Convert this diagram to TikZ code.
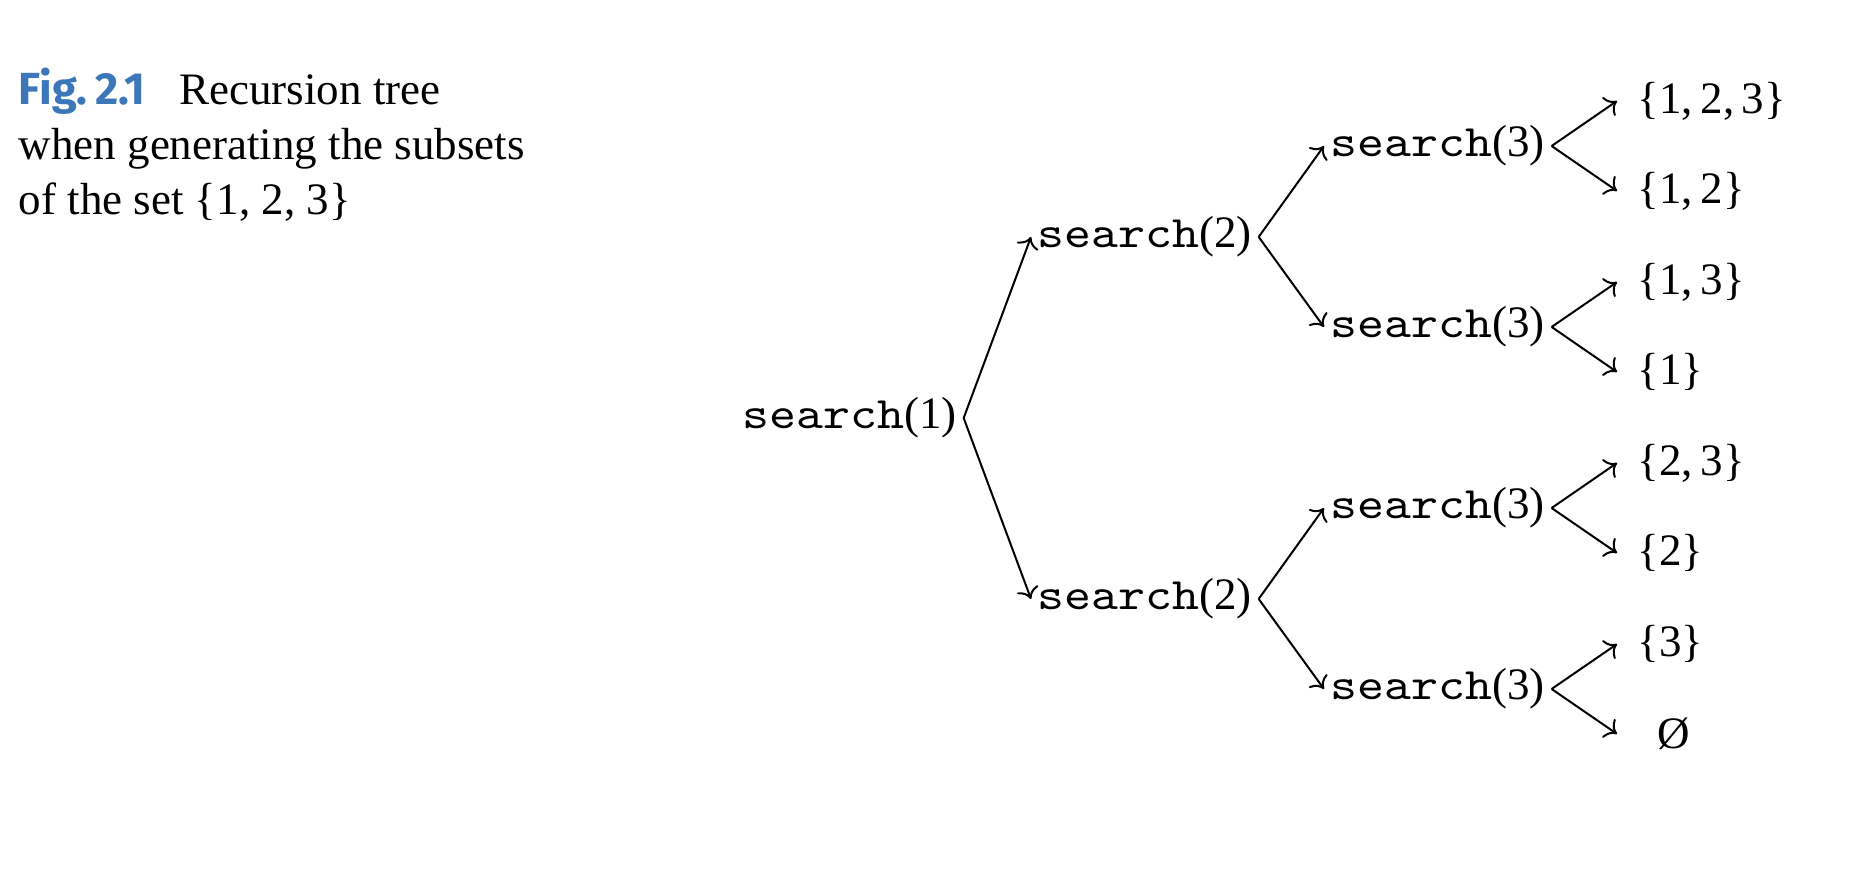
\documentclass[tikz,border=0pt]{standalone}
\usepackage{fontspec}
\setmainfont{Liberation Serif}
\setmonofont[FakeStretch=1.14]{lmmono10-regular.otf}
\newfontfamily\figfont{Fira Sans}
\usetikzlibrary{arrows.meta,positioning}
\definecolor{figblue}{RGB}{60,120,185}
\tikzset{
    call/.style={anchor=west,inner xsep=1.5pt,inner ysep=0pt},
    leaf/.style={anchor=west,inner xsep=5pt,inner ysep=0pt},
    arr/.style={->,line width=0.5pt},
}
\tikzstyle{every node}=[font=\fontsize{11.25}{13.75}\selectfont]
\newcommand{\srch}[1]{\texttt{search}(#1)}

\begin{document}
\begin{tikzpicture}[scale=1]
        \useasboundingbox (0,0) rectangle (16.431,-7.732);

        % caption
        \node[anchor=base west,align=left,inner sep=0pt] (caption) at (0.158,-1.889)
        {{\figfont\bfseries\color{figblue}Fig.\,2.1}\hskip0.75em Recursion tree\\
        when generating the subsets\\
        of the set \{1, 2, 3\}};

        % calls
        \node[call] (s1) at (6.467,-3.673) {\srch{1}};
        \node[call] (s2a) at (9.059,-2.082) {\srch{2}};
        \node[call] (s2b) at (9.059,-5.263) {\srch{2}};
        \node[call] (s3a) at (11.633,-1.283) {\srch{3}};
        \node[call] (s3b) at (11.633,-2.873) {\srch{3}};
        \node[call] (s3c) at (11.633,-4.464) {\srch{3}};
        \node[call] (s3d) at (11.633,-6.054) {\srch{3}};

        % subsets
        \node[leaf] (l1) at (14.208,-0.887) {\{1,\,2,\,3\}};
        \node[leaf] (l2) at (14.208,-1.678) {\{1,\,2\}};
        \node[leaf] (l3) at (14.208,-2.478) {\{1,\,3\}};
        \node[leaf] (l4) at (14.208,-3.269) {\{1\}};
        \node[leaf] (l5) at (14.208,-4.068) {\{2,\,3\}};
        \node[leaf] (l6) at (14.208,-4.859) {\{2\}};
        \node[leaf] (l7) at (14.208,-5.659) {\{3\}};
        \node[leaf,inner xsep=10pt] (l8) at (14.208,-6.449) {Ø};

        \draw[arr] (s1.east) -- (s2a.west);
        \draw[arr] (s1.east) -- (s2b.west);
        \draw[arr] (s2a.east) -- (s3a.west);
        \draw[arr] (s2a.east) -- (s3b.west);
        \draw[arr] (s2b.east) -- (s3c.west);
        \draw[arr] (s2b.east) -- (s3d.west);
        \foreach \p/\a/\b in {s3a/l1/l2,s3b/l3/l4,s3c/l5/l6,s3d/l7/l8}{
            \draw[arr] (\p.east) -- (\a.west);
            \draw[arr] (\p.east) -- (\b.west);
        }
    \end{tikzpicture}
\end{document}
